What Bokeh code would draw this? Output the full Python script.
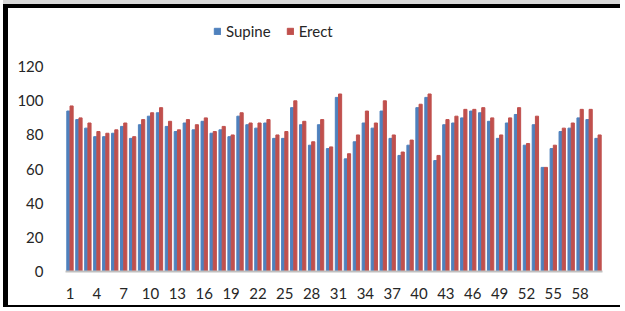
from bokeh.plotting import figure
from bokeh.models import ColumnDataSource, FixedTicker, Legend, LegendItem
from bokeh.transform import dodge
from bokeh.embed import file_html
from bokeh.resources import INLINE

patients = list(range(1, 61))
supine = [94, 89, 84, 79, 79, 81, 85, 78, 86, 91,
          93, 85, 82, 87, 83, 88, 81, 83, 79, 91,
          86, 84, 87, 78, 78, 96, 86, 74, 86, 72,
          102, 66, 76, 87, 84, 94, 78, 68, 74, 96,
          102, 65, 86, 87, 90, 94, 93, 88, 78, 87,
          92, 74, 86, 61, 72, 82, 84, 90, 89, 78]
erect = [97, 90, 87, 82, 81, 83, 87, 79, 89, 93,
         96, 88, 83, 89, 86, 90, 82, 85, 80, 93,
         87, 87, 89, 80, 82, 100, 88, 76, 89, 73,
         104, 69, 80, 94, 87, 100, 80, 70, 77, 98,
         104, 68, 89, 91, 95, 95, 96, 90, 80, 90,
         96, 75, 91, 61, 74, 84, 87, 95, 95, 80]
x_ticks = list(range(1, 61, 3))
y_ticks = [0, 20, 40, 60, 80, 100, 120]

src = ColumnDataSource(dict(x=patients, supine=supine, erect=erect))

p = figure(width=617, height=303, x_range=(0.5, 60.5), y_range=(0, 149.4),
           output_backend="svg", toolbar_location=None,
           min_border_left=57, min_border_right=23, min_border_top=8,
           min_border_bottom=40)
p.border_fill_alpha = 0
p.background_fill_alpha = 0
p.styles = {"border-top": "4px solid black", "border-left": "5px solid black",
            "border-bottom": "2px solid black", "margin-top": "4px",
            "margin-left": "3px", "box-shadow": "0 -4px 0 0 #D9D9D9"}

r1 = p.vbar(x=dodge("x", -0.18, range=p.x_range), top="supine", width=0.35,
            source=src, color="#4F81BD")
r2 = p.vbar(x=dodge("x", 0.18, range=p.x_range), top="erect", width=0.35,
            source=src, color="#C0504D")

p.outline_line_color = None
p.grid.grid_line_color = None

p.xaxis.ticker = FixedTicker(ticks=x_ticks)
p.yaxis.ticker = FixedTicker(ticks=y_ticks)
for ax in (p.xaxis[0], p.yaxis[0]):
    ax.major_tick_line_color = None
    ax.minor_tick_line_color = None
    ax.major_label_text_font = "Lato"
    ax.major_label_text_font_size = "15px"
    ax.major_label_text_color = "#262626"
p.xaxis.axis_line_color = "#BFBFBF"
p.xaxis.axis_line_width = 2
p.xaxis.major_label_standoff = 10
p.yaxis.axis_line_color = None
p.yaxis.major_label_standoff = 16

legend = Legend(items=[LegendItem(label="Supine", renderers=[r1]),
                       LegendItem(label="Erect", renderers=[r2])],
                orientation="horizontal", location=(148, 231),
                label_text_font="Lato", label_text_font_size="15px",
                label_text_color="#262626", glyph_width=8, glyph_height=8,
                label_standoff=5, spacing=15, padding=0, margin=0,
                border_line_color=None, background_fill_alpha=0)
p.add_layout(legend, "center")

open("out.html", "w").write(file_html(p, INLINE))
